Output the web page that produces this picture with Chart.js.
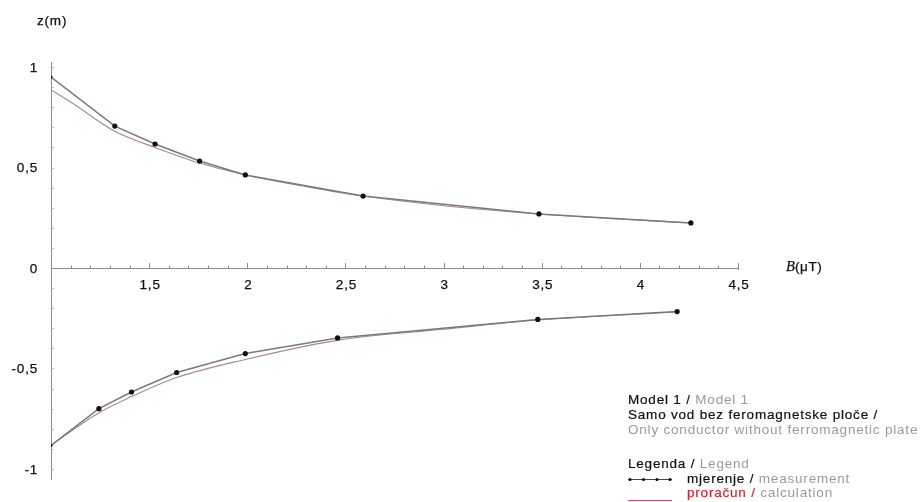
<!DOCTYPE html>
<html>
<head>
<meta charset="utf-8">
<script src="https://cdn.jsdelivr.net/npm/chart.js@4.4.1/dist/chart.umd.min.js"></script>
<style>
  html, body { margin: 0; padding: 0; background: #fff; }
  #wrap { position: relative; width: 923px; height: 502px; overflow: hidden; }
  #c { position: absolute; left: 0; top: 0; }
  .row { position: absolute; white-space: nowrap; font: 13.5px 'Liberation Sans', Arial, sans-serif;
         letter-spacing: 0.8px; line-height: 15px; color: #0f0f0f; -webkit-text-stroke: 0.2px #0f0f0f; }
  .g { color: #9a9a9a; -webkit-text-stroke: 0; }
  .r { color: #d6232e; -webkit-text-stroke: 0.2px #d6232e; }
</style>
</head>
<body>
<div id="wrap">
  <canvas id="c" width="923" height="502"></canvas>
  <div class="row" style="left:628px;top:392px">Model 1 / <span class="g">Model 1</span></div>
  <div class="row" style="left:628px;top:407px">Samo vod bez feromagnetske ploče /</div>
  <div class="row g" style="left:628px;top:422px">Only conductor without ferromagnetic plate</div>
  <div class="row" style="left:628px;top:456px">Legenda / <span class="g">Legend</span></div>
  <div class="row" style="left:687px;top:471px">mjerenje / <span class="g">measurement</span></div>
  <div class="row" style="left:687px;top:485px"><span class="r">proračun /</span> <span class="g">calculation</span></div>
</div>
<script>
// Field above the conductor (z > 0): measured points and calculated curve
const bMeasUpper = [1.0, 1.325, 1.53, 1.757, 1.99, 2.59, 3.486, 4.26];
const zMeasUpper = [0.95, 0.706, 0.617, 0.532, 0.463, 0.358, 0.269, 0.224];
const bCalcUpper = [1.0, 1.11, 1.325, 1.53, 1.757, 1.99, 2.3, 2.59, 3.0, 3.486, 4.26];
const zCalcUpper = [0.886, 0.82, 0.68, 0.60, 0.522, 0.463, 0.405, 0.358, 0.31, 0.269, 0.224];

// Field below the conductor (z < 0)
const bMeasLower = [1.0, 1.244, 1.41, 1.64, 1.99, 2.46, 3.48, 4.19];
const zMeasLower = [-0.883, -0.70, -0.617, -0.52, -0.426, -0.348, -0.256, -0.217];
const bCalcLower = [1.0, 1.244, 1.41, 1.64, 1.99, 2.46, 3.0, 3.48, 4.19];
const zCalcLower = [-0.883, -0.72, -0.64, -0.545, -0.455, -0.36, -0.305, -0.259, -0.219];

// Axis tick values and their printed labels
const xTickValues = [1.5, 2, 2.5, 3, 3.5, 4, 4.5];
const xTickLabels = ['1,5', '2', '2,5', '3', '3,5', '4', '4,5'];
const yTickValues = [1, 0.5, 0, -0.5, -1];
const yTickLabels = ['1', '0,5', '0', '-0,5', '-1'];

const toPoints = (xs, ys) => xs.map((x, i) => ({ x, y: ys[i] }));

const MEAS_LINE = '#7a7a7a';
const CALC_LINE = '#a8878f';
const SANS = "'Liberation Sans', Arial, sans-serif";

function measDataset(xs, ys) {
  return {
    data: toPoints(xs, ys),
    borderColor: MEAS_LINE,
    borderWidth: 1.5,
    tension: 0,
    pointRadius: xs.map((_, i) => (i === 0 ? 1.5 : 2.6)),
    pointBackgroundColor: '#111',
    pointBorderWidth: 0,
    order: 1
  };
}
function calcDataset(xs, ys) {
  return {
    data: toPoints(xs, ys),
    borderColor: CALC_LINE,
    borderWidth: 1.1,
    cubicInterpolationMode: 'monotone',
    pointRadius: 0,
    order: 2
  };
}

function boldText(ctx, text, px, py) {
  ctx.fillText(text, px, py);
  ctx.strokeText(text, px, py);
}

// Axes drawn through the chart's own scales: lines, inward ticks, labels, titles
const axesPlugin = {
  id: 'crossAxes',
  beforeDatasetsDraw(chart) {
    const { ctx, scales: { x, y } } = chart;
    const x0 = x.getPixelForValue(1);
    const y0 = y.getPixelForValue(0);
    ctx.save();
    ctx.strokeStyle = '#8c8c8c';
    ctx.lineWidth = 1;
    // y axis
    ctx.beginPath();
    ctx.moveTo(x0 + 0.5, y.top);
    ctx.lineTo(x0 + 0.5, y.bottom);
    ctx.stroke();
    // x axis
    ctx.beginPath();
    ctx.moveTo(x0, Math.round(y0) + 0.5);
    ctx.lineTo(x.getPixelForValue(4.5), Math.round(y0) + 0.5);
    ctx.stroke();
    // x ticks every 0.1, longer at each 0.5
    for (let i = 11; i <= 45; i++) {
      const px = Math.round(x.getPixelForValue(i / 10)) + 0.5;
      const len = i % 5 === 0 ? 5 : 2.5;
      ctx.beginPath();
      ctx.moveTo(px, Math.round(y0));
      ctx.lineTo(px, Math.round(y0) - len);
      if (i === 45) ctx.lineTo(px, Math.round(y0) + 2);
      ctx.stroke();
    }
    // y ticks every 0.1
    ctx.strokeStyle = '#a6a6a6';
    for (let i = -10; i <= 10; i++) {
      if (i === 0) continue;
      const py = Math.round(y.getPixelForValue(i / 10)) + 0.5;
      ctx.beginPath();
      ctx.moveTo(x0, py);
      ctx.lineTo(x0 + 2.5, py);
      ctx.stroke();
    }
    // tick labels
    ctx.fillStyle = '#0f0f0f';
    ctx.strokeStyle = '#0f0f0f';
    ctx.lineWidth = 0.25;
    ctx.font = '13.5px ' + SANS;
    ctx.letterSpacing = '0.8px';
    ctx.textBaseline = 'middle';
    ctx.textAlign = 'center';
    xTickValues.forEach((v, i) => {
      boldText(ctx, xTickLabels[i], x.getPixelForValue(v) + 1, y0 + 17);
    });
    ctx.textAlign = 'right';
    yTickValues.forEach((v, i) => {
      boldText(ctx, yTickLabels[i], 38, y.getPixelForValue(v) + 1);
    });
    // axis titles
    ctx.textAlign = 'left';
    boldText(ctx, 'z(m)', 37, 21);
    ctx.font = 'italic 14.5px "Liberation Serif", "Times New Roman", serif';
    ctx.letterSpacing = '0px';
    boldText(ctx, 'B', 786, 267);
    ctx.font = '13.5px ' + SANS;
    ctx.letterSpacing = '0.6px';
    boldText(ctx, '(μT)', 795, 267);
    ctx.restore();
  },
  afterDraw(chart) {
    // legend line samples
    const { ctx } = chart;
    ctx.save();
    ctx.strokeStyle = '#444';
    ctx.lineWidth = 1;
    ctx.beginPath();
    ctx.moveTo(628, 479.5);
    ctx.lineTo(672, 479.5);
    ctx.stroke();
    ctx.fillStyle = '#111';
    [630, 643.5, 657, 670].forEach(px => {
      ctx.beginPath();
      ctx.arc(px, 479.5, 1.6, 0, Math.PI * 2);
      ctx.fill();
    });
    ctx.strokeStyle = '#d44a5c';
    ctx.beginPath();
    ctx.moveTo(628, 500.5);
    ctx.lineTo(672, 500.5);
    ctx.stroke();
    ctx.restore();
  }
};

new Chart(document.getElementById('c'), {
  type: 'line',
  data: {
    datasets: [
      measDataset(bMeasUpper, zMeasUpper),
      calcDataset(bCalcUpper, zCalcUpper),
      measDataset(bMeasLower, zMeasLower),
      calcDataset(bCalcLower, zCalcLower)
    ]
  },
  options: {
    responsive: false,
    animation: false,
    events: [],
    layout: { padding: { left: 51, right: 185, top: 62, bottom: 22 } },
    plugins: { legend: { display: false }, tooltip: { enabled: false } },
    scales: {
      x: { type: 'linear', min: 1, max: 4.5, display: false },
      y: { type: 'linear', min: -1.055, max: 1.025, display: false }
    }
  },
  plugins: [axesPlugin]
});
</script>
</body>
</html>
